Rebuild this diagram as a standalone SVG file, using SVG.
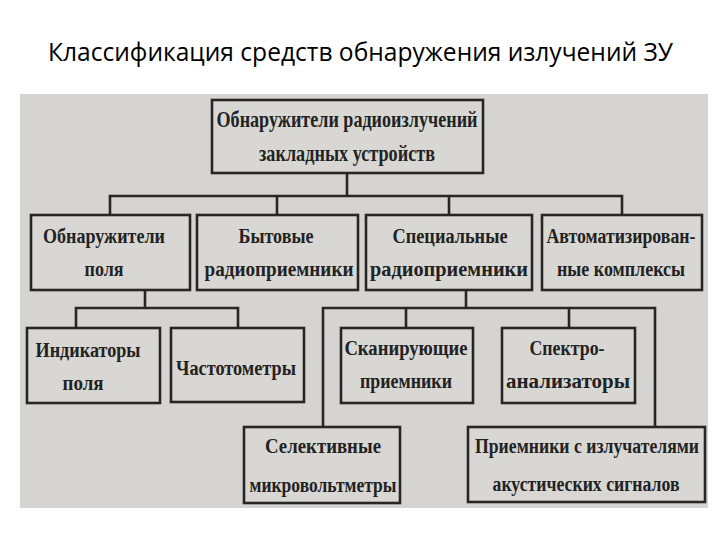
<svg xmlns="http://www.w3.org/2000/svg" width="720" height="540" viewBox="0 0 720 540">
<style>
.box{fill:#d9d7d3;stroke:#262626;stroke-width:2.6}
.ln{fill:none;stroke:#262626;stroke-width:2.6;stroke-linecap:square}
.t{font-family:"Liberation Serif","Times New Roman",serif;font-weight:bold;font-size:22px;fill:#222;text-anchor:middle}
.tt{font-size:24px}
.title{font-family:"Open Sans","Noto Sans",sans-serif;font-size:25px;fill:#000}
</style>
<rect width="720" height="540" fill="#fff"/>
<text class="title" x="48" y="61" textLength="625" lengthAdjust="spacingAndGlyphs">Классификация средств обнаружения излучений  ЗУ</text>
<rect x="20" y="94" width="688" height="414" fill="#d6d4d1"/>
<g id="connectors">
<path class="ln" d="M347 173V196M110 215V196H622V215M277 196V215M449 196V215"/>
<path class="ln" d="M145 290V308M76 328V308H238V328"/>
<path class="ln" d="M466 290V308M323 427V308H655V427M406 308V328M569 308V328"/>
</g>
<g id="n0"><rect class="box" x="212" y="100" width="271" height="73"/>
<text class="t tt" transform="translate(347 127) scale(0.78 1)" textLength="334.6" lengthAdjust="spacingAndGlyphs">Обнаружители радиоизлучений</text>
<text class="t tt" transform="translate(347 161) scale(0.78 1)" textLength="225.6" lengthAdjust="spacingAndGlyphs">закладных устройств</text></g>
<g id="n1"><rect class="box" x="31" y="215" width="159" height="75"/>
<text class="t" transform="translate(104 243) scale(0.78 1)" textLength="156.4" lengthAdjust="spacingAndGlyphs">Обнаружители</text>
<text class="t" transform="translate(104 276) scale(0.78 1)" textLength="50" lengthAdjust="spacingAndGlyphs">поля</text></g>
<g id="n2"><rect class="box" x="197" y="215" width="161" height="75"/>
<text class="t" transform="translate(276 243) scale(0.78 1)" textLength="96.2" lengthAdjust="spacingAndGlyphs">Бытовые</text>
<text class="t" transform="translate(279 276) scale(0.78 1)" textLength="191" lengthAdjust="spacingAndGlyphs">радиоприемники</text></g>
<g id="n3"><rect class="box" x="366" y="215" width="166" height="75"/>
<text class="t" transform="translate(450 243) scale(0.78 1)" textLength="147.4" lengthAdjust="spacingAndGlyphs">Специальные</text>
<text class="t" transform="translate(449 276) scale(0.78 1)" textLength="202.6" lengthAdjust="spacingAndGlyphs">радиоприемники</text></g>
<g id="n4"><rect class="box" x="542" y="215" width="160" height="75"/>
<text class="t" transform="translate(621 243) scale(0.78 1)" textLength="191" lengthAdjust="spacingAndGlyphs">Автоматизирован-</text>
<text class="t" transform="translate(621 276) scale(0.78 1)" textLength="164.1" lengthAdjust="spacingAndGlyphs">ные комплексы</text></g>
<g id="n5"><rect class="box" x="27" y="328" width="133" height="75"/>
<text class="t" transform="translate(88 357) scale(0.78 1)" textLength="134.6" lengthAdjust="spacingAndGlyphs">Индикаторы</text>
<text class="t" transform="translate(83 390) scale(0.78 1)" textLength="52.6" lengthAdjust="spacingAndGlyphs">поля</text></g>
<g id="n6"><rect class="box" x="171" y="328" width="133" height="74"/>
<text class="t" transform="translate(236 375) scale(0.78 1)" textLength="153.8" lengthAdjust="spacingAndGlyphs">Частотометры</text></g>
<g id="n7"><rect class="box" x="341" y="328" width="132" height="75"/>
<text class="t" transform="translate(406 355) scale(0.78 1)" textLength="158" lengthAdjust="spacingAndGlyphs">Сканирующие</text>
<text class="t" transform="translate(406 388) scale(0.78 1)" textLength="118" lengthAdjust="spacingAndGlyphs">приемники</text></g>
<g id="n8"><rect class="box" x="502" y="328" width="133" height="75"/>
<text class="t" transform="translate(567 355) scale(0.78 1)" textLength="96.2" lengthAdjust="spacingAndGlyphs">Спектро-</text>
<text class="t" transform="translate(568 388) scale(0.78 1)" textLength="159" lengthAdjust="spacingAndGlyphs">анализаторы</text></g>
<g id="n9"><rect class="box" x="244" y="427" width="156" height="76"/>
<text class="t" transform="translate(323 453) scale(0.78 1)" textLength="148.7" lengthAdjust="spacingAndGlyphs">Селективные</text>
<text class="t" transform="translate(323 492) scale(0.78 1)" textLength="188.5" lengthAdjust="spacingAndGlyphs">микровольтметры</text></g>
<g id="n10"><rect class="box" x="468" y="427" width="237" height="75"/>
<text class="t" transform="translate(587 453) scale(0.78 1)" textLength="287.2" lengthAdjust="spacingAndGlyphs">Приемники с излучателями</text>
<text class="t" transform="translate(586 491) scale(0.78 1)" textLength="239.7" lengthAdjust="spacingAndGlyphs">акустических сигналов</text></g>
</svg>
